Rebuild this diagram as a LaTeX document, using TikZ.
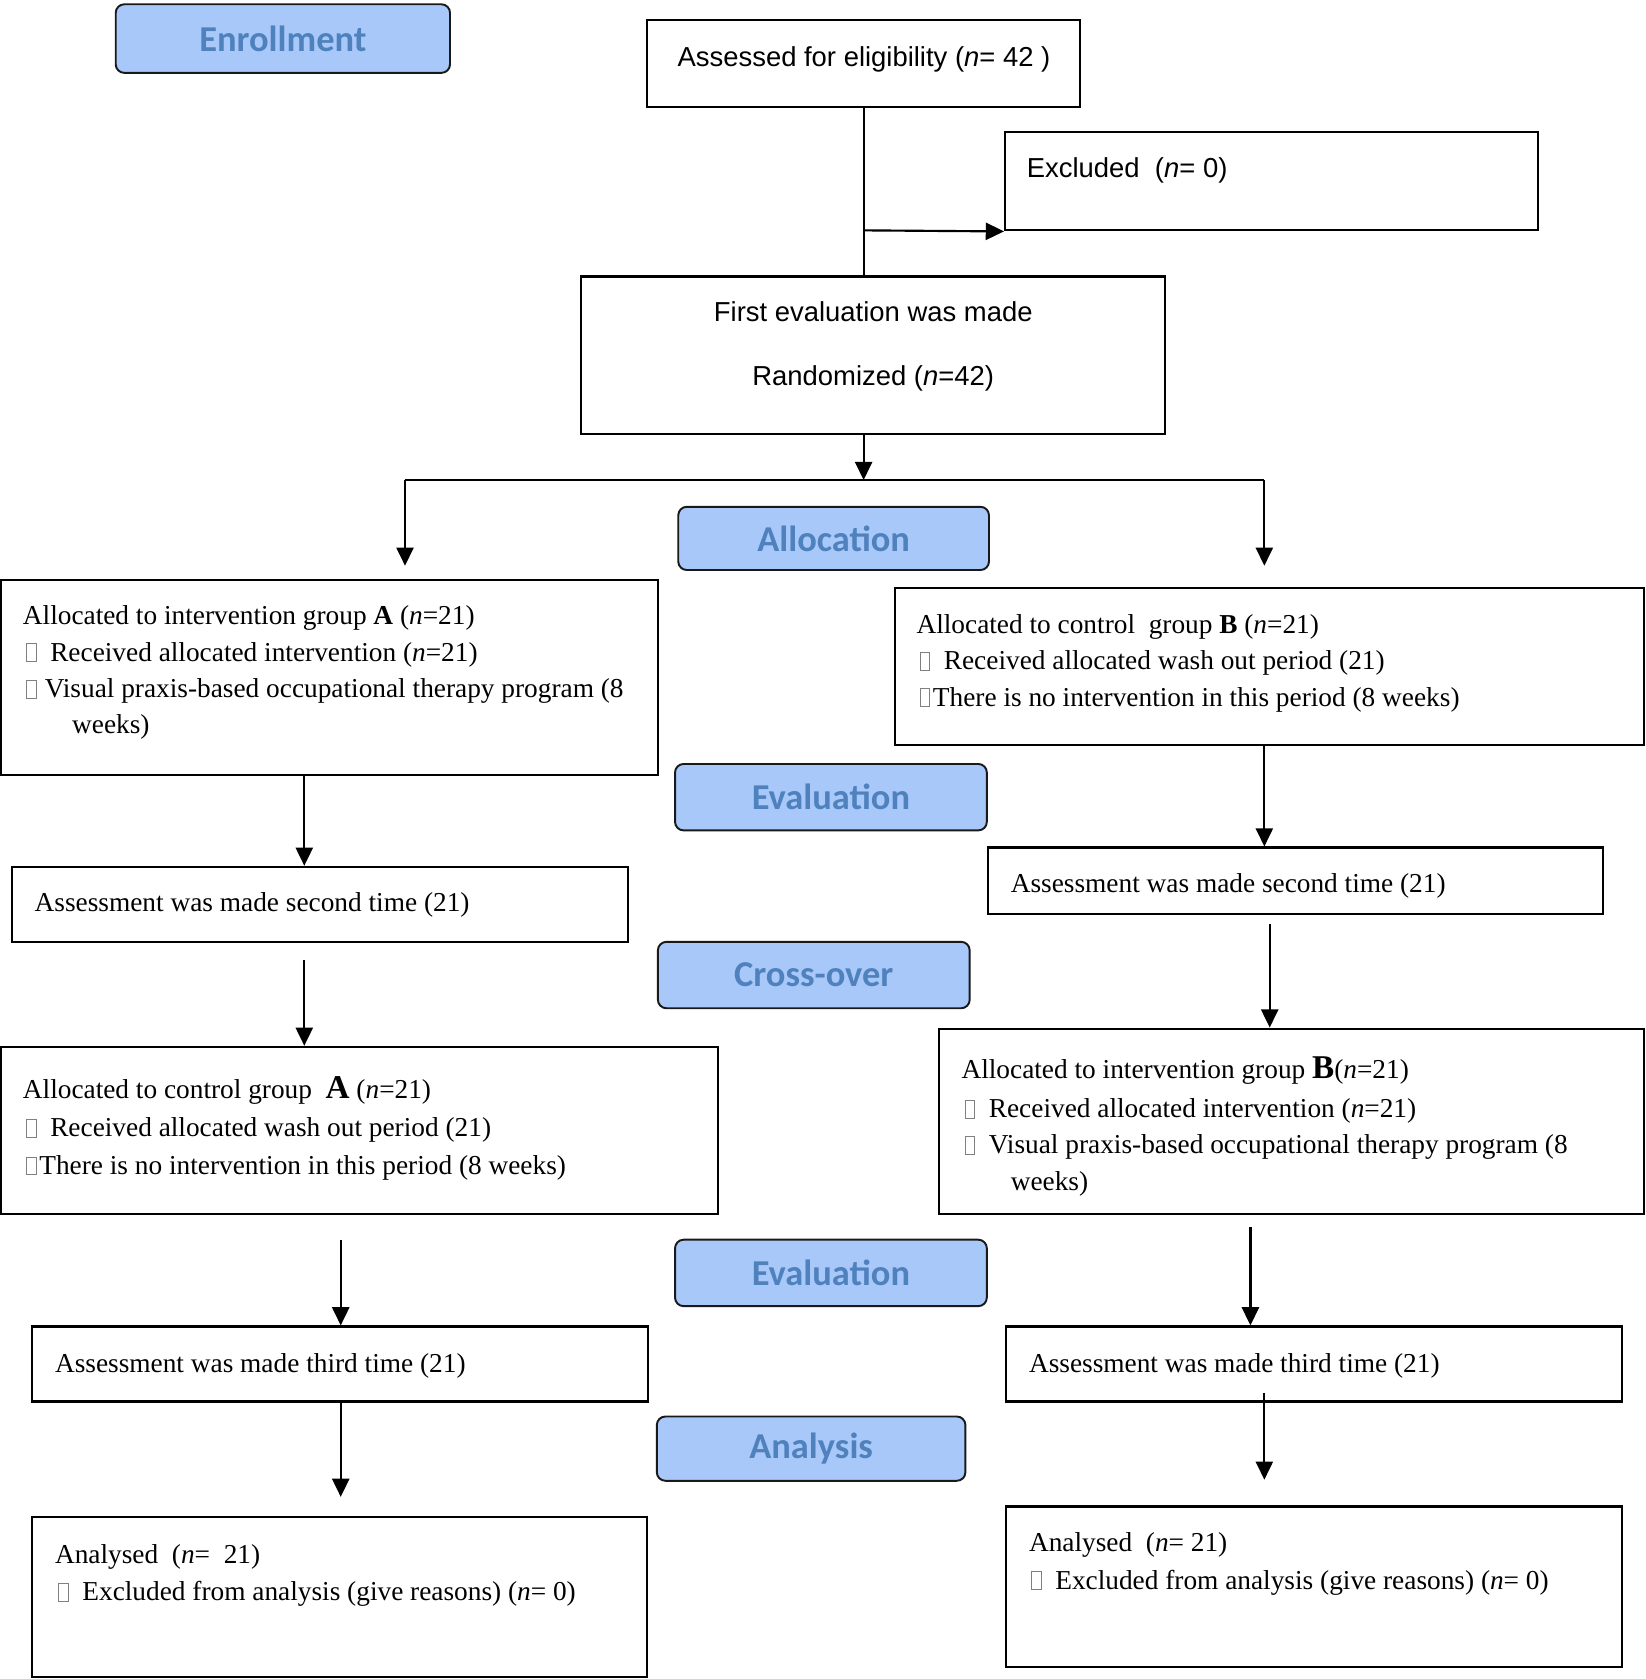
\documentclass[tikz,border=0pt]{standalone}
\usepackage{fontspec}
\setmainfont{Liberation Serif}
\newfontfamily\arialf{Liberation Sans}
\newfontfamily\calibrif{Carlito}
\usetikzlibrary{arrows.meta,fit}
\definecolor{hdrfill}{RGB}{168,200,250}
\definecolor{hdrtext}{RGB}{79,129,189}
\newcommand{\tofu}{\textcolor{gray}{\fboxsep=0pt\fboxrule=0.4pt\fbox{\rule{0pt}{0.62em}\hspace{0.32em}}}}
\newcommand{\tsp}{\hspace{0.5em}}
\newcommand{\bigA}[1]{{\fontsize{15.5}{16}\selectfont\bfseries #1}}
\begin{document}
\begin{tikzpicture}[x=0.5pt,y=-0.5pt,
  box/.style={draw=black,line width=1pt,inner sep=0pt},
  hdr/.style={draw=black!90,line width=0.9pt,fill=hdrfill,rounded corners=4pt,inner sep=0pt},
  hdrtxt/.style={font=\calibrif\bfseries\fontsize{17}{20}\selectfont,text=hdrtext,inner sep=0pt},
  tx/.style={anchor=base west,inner sep=0pt,font=\fontsize{12.75}{14}\selectfont},
  sx/.style={anchor=base west,inner sep=0pt,font=\arialf\fontsize{12.8}{14}\selectfont},
  arr/.style={line width=1pt,-{Triangle[length=8.5pt,width=8pt]}},
  ln/.style={line width=1pt}]
\useasboundingbox (0,0) rectangle (1536,1567);
% header boxes
\node[hdr,fit={(108,4) (420,68)}] (enroll) {};
\node[hdrtxt] at (enroll.center) {Enrollment};
\node[hdr,fit={(633,473) (923,532)}] (alloc) {};
\node[hdrtxt] at (alloc.center) {Allocation};
\node[hdr,fit={(630,713) (921,775)}] (eval1) {};
\node[hdrtxt] at (eval1.center) {Evaluation};
\node[hdr,fit={(614,879) (905,941)}] (cross) {};
\node[hdrtxt] at (cross.center) {Cross-over};
\node[hdr,fit={(630,1157) (921,1219)}] (eval2) {};
\node[hdrtxt] at (eval2.center) {Evaluation};
\node[hdr,fit={(613,1322) (901,1382)}] (anal) {};
\node[hdrtxt] at (anal.center) {Analysis};
% boxes
\node[box,fit={(604,19) (1008,100)}] (assess) {};
\node[box,fit={(938,123) (1435,215)}] (excl) {};
\node[box,fit={(542,258) (1087,405)}] (first) {};
\node[box,fit={(1,541) (614,723)}] (a1) {};
\node[box,fit={(835,549) (1534,695)}] (b1) {};
\node[box,fit={(11,809) (586,879)}] (as2L) {};
\node[box,fit={(922,791) (1496,853)}] (as2R) {};
\node[box,fit={(1,977) (670,1133)}] (a2) {};
\node[box,fit={(876,960) (1534,1133)}] (b2) {};
\node[box,fit={(30,1238) (605,1308)}] (as3L) {};
\node[box,fit={(939,1238) (1514,1308)}] (as3R) {};
\node[box,fit={(30,1416) (604,1565)}] (anL) {};
\node[box,fit={(939,1406) (1514,1556)}] (anR) {};
% texts
\node[sx] (t1) at (632,62) {Assessed for eligibility (\textit{n}= 42 )};
\node[sx] (t2) at (958,166) {Excluded\ \ (\textit{n}= 0)};
\node[sx,anchor=base] (t3) at (815,300) {First evaluation was made};
\node[sx,anchor=base] (t4) at (815,360) {Randomized (\textit{n}=42)};
\node[tx] (a1l1) at (21,583) {Allocated to intervention group \textbf{A} (\textit{n}=21)};
\node[tx] (a1l2) at (24,617) {\tofu\tsp Received allocated intervention (\textit{n}=21)};
\node[tx] (a1l3) at (24,651) {\tofu\hspace{0.3em}Visual praxis-based occupational therapy program (8};
\node[tx] (a1l4) at (67,685) {weeks)};
\node[tx] (b1l1) at (855,591) {Allocated to control\ \ group \textbf{B} (\textit{n}=21)};
\node[tx] (b1l2) at (858,625) {\tofu\tsp Received allocated wash out period (21)};
\node[tx] (b1l3) at (858,659) {\tofu\hspace{0.1em}There is no intervention in this period (8 weeks)};
\node[tx] (as2Lt) at (32,851) {Assessment was made second time (21)};
\node[tx] (as2Rt) at (943,833) {Assessment was made second time (21)};
\node[tx] (a2l1) at (21,1025) {Allocated to control group\ \ \bigA{A} (\textit{n}=21)};
\node[tx] (a2l2) at (24,1061) {\tofu\tsp Received allocated wash out period (21)};
\node[tx] (a2l3) at (24,1096) {\tofu\hspace{0.1em}There is no intervention in this period (8 weeks)};
\node[tx] (b2l1) at (897,1007) {Allocated to intervention group \bigA{B}(\textit{n}=21)};
\node[tx] (b2l2) at (900,1043) {\tofu\tsp Received allocated intervention (\textit{n}=21)};
\node[tx] (b2l3) at (900,1077) {\tofu\tsp Visual praxis-based occupational therapy program (8};
\node[tx] (b2l4) at (943,1111) {weeks)};
\node[tx] (as3Lt) at (51,1281) {Assessment was made third time (21)};
\node[tx] (as3Rt) at (960,1281) {Assessment was made third time (21)};
\node[tx] (anLl1) at (51,1459) {Analysed\ \ (\textit{n}=\ \ 21)};
\node[tx] (anLl2) at (54,1494) {\tofu\tsp Excluded from analysis (give reasons) (\textit{n}= 0)};
\node[tx] (anRl1) at (960,1448) {Analysed\ \ (\textit{n}= 21)};
\node[tx] (anRl2) at (962,1483) {\tofu\tsp Excluded from analysis (give reasons) (\textit{n}= 0)};
% connector coordinates
\coordinate (br) at (806,215);
\coordinate (split) at (806,448);
\coordinate (sl) at (378,448);
\coordinate (sr) at (1180,448);
\coordinate (tl) at (378,528);
\coordinate (tr) at (1180,528);
\coordinate (c1) at (284,0);
\coordinate (c2) at (1180,0);
\coordinate (s3) at (284,896);
\coordinate (s4) at (1185,862);
\coordinate (s5) at (318,1157);
\coordinate (s6) at (1167,1145);
\coordinate (e7) at (318,1397);
\coordinate (s8) at (1180,1300);
\coordinate (e8) at (1180,1381);
% connectors
\draw[ln] (assess.south) -- (assess.south |- first.north);
\draw[arr] (br) -- (excl.south west);
\draw[arr] (assess.south |- first.south) -- (split);
\draw[ln] (sl) -- (sr);
\draw[arr] (sl) -- (tl);
\draw[arr] (sr) -- (tr);
\draw[arr] (a1.south -| c1) -- (as2L.north -| c1);
\draw[arr] (b1.south -| c2) -- (as2R.north -| c2);
\draw[arr] (s3) -- (a2.north -| s3);
\draw[arr] (s4) -- (b2.north -| s4);
\draw[arr] (s5) -- (as3L.north -| s5);
\draw[arr] (s6) -- (as3R.north -| s6);
\draw[arr] (as3L.south -| e7) -- (e7);
\draw[arr] (s8) -- (e8);
\end{tikzpicture}
\end{document}
